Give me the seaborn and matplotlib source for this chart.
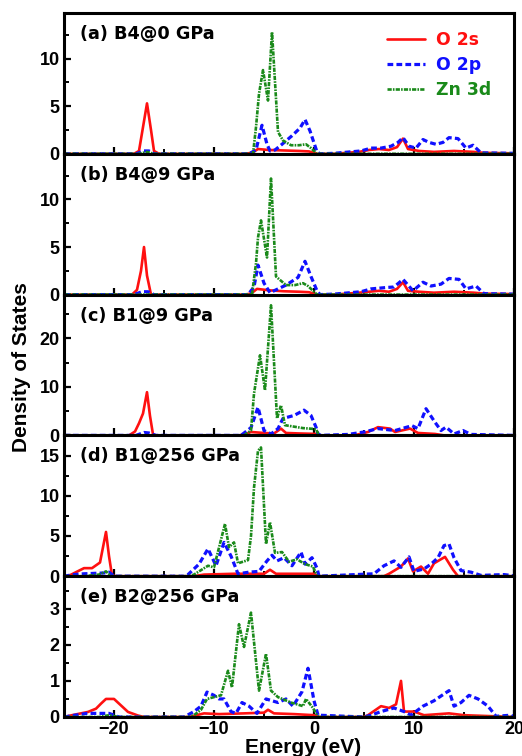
import matplotlib
matplotlib.use('Agg')
import matplotlib.pyplot as plt
from matplotlib.ticker import MultipleLocator
import pandas as pd
import seaborn as sns

# ---- (a) B4@0 GPa ----
a_s_e = [-25, -18.0, -17.5, -17.1, -16.7, -16.3, -16.0, -15.5, -7.0, -6.2, -5.6, -4.5, -3.0, -1.5, -0.5, 0.3,
         2.0, 4.5, 5.5, 6.5, 7.5, 8.3, 8.9, 9.4, 10.5, 12.0, 14.0, 16.0, 17.0, 20]
a_s = [0, 0, 0.3, 2.8, 5.3, 2.5, 0.3, 0, 0, 0.1, 0.5, 0.4, 0.35, 0.3, 0.25, 0,
       0, 0.2, 0.4, 0.5, 0.4, 0.7, 1.6, 0.5, 0.3, 0.2, 0.3, 0.2, 0.1, 0.05]
a_p_e = [-25, -17.8, -17.0, -16.5, -16.0, -6.5, -5.8, -5.2, -4.7, -4.4, -3.9, -3.2, -2.2, -1.4, -0.9, -0.4, 0.3, 0.6,
         2.0, 4.7, 5.7, 6.7, 7.7, 8.4, 8.9, 9.5, 10.2, 10.9, 11.5, 12.2, 12.9, 13.5, 14.4, 15.2, 15.9, 16.7, 20]
a_p = [0, 0, 0.3, 0.3, 0, 0, 0.4, 3.0, 1.0, 0.3, 0.4, 1.0, 1.9, 2.7, 3.6, 2.4, 0.2, 0,
       0.05, 0.3, 0.6, 0.6, 0.8, 1.2, 1.7, 0.8, 0.6, 1.5, 1.2, 1.0, 1.2, 1.7, 1.6, 0.6, 0.9, 0.1, 0.05]
a_d_e = [-25, -17.5, -16.7, -16.0, -6.1, -5.8, -5.5, -5.1, -4.6, -4.2, -3.6, -3.1, -2.3, -1.5, -0.8, -0.3, 0.3, 20]
a_d = [0, 0, 0.2, 0, 0, 2.8, 6.3, 8.8, 5.6, 12.8, 2.3, 1.4, 0.9, 0.9, 1.0, 0.6, 0, 0]

# ---- (b) B4@9 GPa ----
b_s_e = [-25, -18.2, -17.7, -17.3, -17.0, -16.7, -16.3, -7.0, -6.3, -5.7, -4.5, -3.0, -1.5, -0.5, 0.3,
         2.0, 4.5, 5.5, 6.5, 7.5, 8.3, 8.9, 9.4, 10.5, 12.0, 14.0, 16.0, 17.0, 20]
b_s = [0, 0, 0.5, 2.5, 5.0, 2.0, 0, 0, 0.1, 0.6, 0.45, 0.35, 0.3, 0.25, 0,
       0, 0.2, 0.3, 0.4, 0.3, 0.6, 1.3, 0.4, 0.3, 0.2, 0.3, 0.2, 0.1, 0.05]
b_p_e = [-25, -18.0, -17.2, -16.6, -16.0, -6.6, -6.0, -5.6, -5.0, -4.4, -3.8, -2.8, -1.6, -0.9, -0.3, 0.3, 0.6,
         2.0, 4.7, 5.7, 7.3, 8.0, 8.9, 9.9, 10.9, 11.7, 12.7, 13.5, 14.5, 15.2, 16.2, 17.0, 20]
b_p = [0, 0, 0.3, 0.3, 0, 0, 0.8, 3.1, 1.2, 0.2, 0.5, 1.0, 1.8, 3.5, 1.9, 0.4, 0,
       0.05, 0.3, 0.6, 0.75, 0.8, 1.6, 0.4, 1.3, 0.9, 1.1, 1.7, 1.6, 0.6, 0.9, 0.1, 0.05]
b_d_e = [-25, -6.2, -5.8, -5.6, -5.3, -4.7, -4.3, -3.8, -2.8, -1.9, -1.1, -0.6, 0.3, 20]
b_d = [0, 0, 3.3, 6.0, 7.8, 3.9, 12.2, 1.9, 1.0, 1.0, 1.2, 0.9, 0, 0]

# ---- (c) B1@9 GPa ----
c_s_e = [-25, -18.5, -17.9, -17.5, -17.1, -16.7, -16.4, -16.1, -15.8, -7.5, -6.8, -6.3, -5.0, -4.0, -3.3, -2.8,
         -1.5, 0.3, 0.6, 4.0, 5.4, 6.4, 7.6, 8.1, 9.6, 10.4, 12.1, 13.0, 20]
c_s = [0, 0, 0.8, 2.5, 4.5, 8.9, 4.0, 0.2, 0, 0, 0.3, 0.7, 0.5, 0.4, 1.4, 0.5,
       0.4, 0.3, 0, 0, 0.7, 1.7, 1.4, 0.7, 1.4, 0.5, 0.3, 0, 0]
c_p_e = [-25, -17.8, -17.0, -16.5, -15.8, -7.3, -6.3, -5.6, -5.0, -4.3, -3.6, -3.1, -2.0, -1.0, -0.3, 0.2, 0.4, 0.7,
         3.4, 5.0, 6.4, 8.1, 9.8, 10.4, 11.2, 12.1, 12.7, 13.2, 14.0, 14.9, 15.7, 20]
c_p = [0, 0, 0.6, 0.5, 0, 0, 1.6, 5.8, 1.0, 0.3, 1.4, 3.5, 4.1, 5.2, 4.1, 1.7, 0.3, 0,
       0.2, 0.7, 1.4, 1.0, 2.0, 1.4, 5.5, 2.7, 1.0, 1.7, 0.3, 1.0, 0.2, 0]
c_d_e = [-25, -7.0, -6.3, -6.0, -5.4, -4.9, -4.3, -3.7, -3.3, -2.9, -2.0, -1.1, 0.2, 0.5, 20]
c_d = [0, 0, 1.0, 8.6, 16.5, 9.3, 26.8, 3.5, 6.2, 2.1, 1.8, 1.5, 1.3, 0, 0]

# ---- (d) B1@256 GPa ----
d_s_e = [-25, -24.6, -23.0, -22.2, -21.4, -20.8, -20.5, -20.2, -19.8, -12.0, -11.0, -8.0, -5.0, -4.4, -3.8, -2.0,
         0.0, 0.4, 7.0, 7.5, 8.7, 9.4, 9.9, 10.7, 11.4, 12.0, 13.1, 13.9, 14.4, 20]
d_s = [0, 0, 1.0, 1.0, 1.7, 5.5, 2.5, 0.1, 0, 0, 0.2, 0.3, 0.3, 0.8, 0.3, 0.3,
       0.3, 0, 0, 0.3, 1.2, 2.2, 0.6, 1.2, 0.3, 1.6, 2.4, 0.8, 0, 0]
d_p_e = [-25, -24.0, -23.0, -21.0, -20.5, -20.0, -13.0, -12.6, -11.5, -10.6, -9.8, -9.0, -8.3, -7.6, -6.5, -5.5,
         -4.7, -4.2, -3.7, -3.0, -2.2, -1.3, -0.9, -0.2, 0.3, 0.5, 6.0, 7.0, 8.0, 8.7, 9.5, 10.0, 11.0, 11.7,
         12.4, 13.0, 13.5, 14.0, 14.7, 15.7, 16.7, 19.0, 20]
d_p = [0, 0.2, 0.3, 0.4, 0.5, 0, 0, 0.2, 1.5, 3.4, 1.3, 4.2, 2.5, 0.3, 0.5, 0.6,
       1.9, 2.6, 1.9, 2.3, 1.3, 3.0, 1.5, 2.3, 1.0, 0, 0.3, 1.3, 1.9, 1.1, 2.4, 0.6, 0.9, 1.5,
       2.3, 3.8, 4.0, 2.3, 0.7, 0.5, 0.1, 0.2, 0.05]
d_d_e = [-25, -23.0, -21.5, -20.8, -20.3, -12.5, -12.0, -10.6, -10.0, -8.9, -8.5, -8.0, -7.6, -6.6, -6.3, -6.0,
         -5.6, -5.3, -4.8, -4.4, -3.9, -3.2, -2.5, -1.7, -0.9, -0.1, 0.3, 20]
d_d = [0, 0, 0.2, 0.6, 0, 0, 0.2, 1.3, 1.1, 6.5, 3.6, 4.2, 1.6, 2.0, 5.0, 11.0,
       15.6, 16.0, 4.0, 6.7, 2.9, 3.0, 1.8, 2.1, 1.5, 1.2, 0, 0]

# ---- (e) B2@256 GPa ----
e_s_e = [-25, -24.2, -22.6, -21.8, -21.3, -20.8, -20.0, -19.3, -18.6, -17.6, -17.0, -12.5, -11.0, -9.5, -7.0,
         -5.0, -4.6, -4.0, -2.0, 0.0, 0.5, 5.0, 5.4, 6.7, 7.5, 8.2, 8.7, 9.0, 10.0, 11.0, 13.5, 15.0, 20]
e_s = [0, 0.05, 0.14, 0.23, 0.37, 0.5, 0.5, 0.32, 0.14, 0.04, 0, 0, 0.1, 0.08, 0.1,
       0.12, 0.2, 0.1, 0.08, 0.05, 0, 0, 0.05, 0.3, 0.25, 0.35, 1.0, 0.15, 0.15, 0.05, 0.1, 0.05, 0]
e_p_e = [-25, -23.9, -22.7, -20.5, -19.5, -13.0, -12.0, -11.3, -10.7, -10.0, -9.5, -9.0, -8.3, -7.8, -7.2,
         -6.5, -5.7, -4.8, -3.6, -2.8, -2.1, -1.2, -0.6, 0.0, 0.4, 5.0, 5.7, 6.7, 8.0, 9.0, 9.7, 10.9, 12.0,
         12.8, 13.5, 14.0, 14.7, 15.5, 16.4, 17.4, 18.2, 19.7, 20]
e_p = [0, 0.05, 0.1, 0.1, 0, 0, 0.15, 0.3, 0.69, 0.6, 0.5, 0.5, 0.15, 0.1, 0.4,
       0.3, 0.1, 0.5, 0.4, 0.5, 0.3, 0.7, 1.35, 0.45, 0.05, 0, 0.05, 0.15, 0.25, 0.15, 0.05, 0.3, 0.45,
       0.6, 0.73, 0.3, 0.4, 0.6, 0.5, 0.3, 0.02, 0.05, 0]
e_d_e = [-25, -21.5, -20.5, -19.5, -12.5, -12.0, -11.3, -10.7, -10.0, -9.3, -8.6, -8.2, -7.5, -7.0, -6.3,
         -5.5, -4.8, -4.3, -3.6, -2.3, -1.1, -0.8, -0.1, 0.4, 20]
e_d = [0, 0, 0.05, 0, 0, 0.05, 0.2, 0.5, 0.55, 0.6, 1.28, 0.82, 2.57, 1.94, 2.89,
       0.73, 1.75, 0.73, 0.55, 0.4, 0.3, 0.5, 0.25, 0, 0]

panel_titles = ['(a) B4@0 GPa', '(b) B4@9 GPa', '(c) B1@9 GPa', '(d) B1@256 GPa', '(e) B2@256 GPa']
series_names = ['O 2s', 'O 2p', 'Zn 3d']
y_tops = [14.8, 14.8, 29, 17.5, 3.9]
y_major = [5, 5, 10, 5, 1]

sns.set_style('ticks')
plt.rcParams['font.family'] = ['Liberation Sans', 'DejaVu Sans']
plt.rcParams['font.weight'] = 'bold'
plt.rcParams['text.color'] = 'black'
plt.rcParams['axes.labelcolor'] = 'black'
plt.rcParams['xtick.color'] = 'black'
plt.rcParams['ytick.color'] = 'black'

styles = {
    'O 2s': dict(color='#ff1010', lw=1.9, ls='-'),
    'O 2p': dict(color='#1010ff', lw=2.3, ls=(0, (1.8, 1.0))),
    'Zn 3d': dict(color='#1a8a1a', lw=1.9, ls=(0, (1.6, 0.45, 0.6, 0.45))),
}

panel_data = [
    [(a_s_e, a_s), (a_p_e, a_p), (a_d_e, a_d)],
    [(b_s_e, b_s), (b_p_e, b_p), (b_d_e, b_d)],
    [(c_s_e, c_s), (c_p_e, c_p), (c_d_e, c_d)],
    [(d_s_e, d_s), (d_p_e, d_p), (d_d_e, d_d)],
    [(e_s_e, e_s), (e_p_e, e_p), (e_d_e, e_d)],
]

fig, axes = plt.subplots(5, 1, figsize=(5.22, 7.56), dpi=100, sharex=True)
fig.subplots_adjust(left=0.1226, right=0.9847, top=0.9828, bottom=0.0516, hspace=0)

for i, ax in enumerate(axes):
    for name, (en, dos) in zip(series_names, panel_data[i]):
        df = pd.DataFrame({'Energy': en, 'DOS': dos})
        st = styles[name]
        sns.lineplot(data=df, x='Energy', y='DOS', ax=ax, color=st['color'], linewidth=st['lw'],
                     linestyle=st['ls'], label=name, legend=False, estimator=None, sort=False)
    ax.set_xlim(-25, 20)
    ax.set_ylim(0, y_tops[i])
    ax.xaxis.set_major_locator(MultipleLocator(10))
    ax.xaxis.set_minor_locator(MultipleLocator(5))
    ax.yaxis.set_major_locator(MultipleLocator(y_major[i]))
    ax.yaxis.set_minor_locator(MultipleLocator(y_major[i] / 2))
    ax.tick_params(which='both', direction='in', top=False, right=False, labelsize=13, pad=3,
                   colors='black')
    ax.tick_params(which='major', length=5, width=1.6)
    ax.tick_params(which='minor', length=3.5, width=1.4)
    for sp in ax.spines.values():
        sp.set_linewidth(2.2)
        sp.set_color('black')
    ax.set_xlabel('')
    ax.set_ylabel('')
    ax.text(0.036, 0.815, panel_titles[i], transform=ax.transAxes, ha='left', va='baseline',
            fontsize=12.7, fontweight='bold', family=['DejaVu Sans'], color='black')

leg = axes[0].legend(loc='upper right', bbox_to_anchor=(0.969, 0.936), frameon=False, borderpad=0,
                     handlelength=2.2, handletextpad=0.65, labelspacing=0.42, labelcolor='linecolor',
                     prop={'family': 'DejaVu Sans', 'weight': 'bold', 'size': 12.4})

fig.text(0.042, 0.514, 'Density of States', rotation=90, ha='center', va='center',
         fontsize=15, fontweight='bold', color='black')
fig.text(0.581, 0.004, 'Energy (eV)', ha='center', va='baseline', fontsize=15, fontweight='bold',
         color='black')

fig.savefig('out.png', dpi=100)
